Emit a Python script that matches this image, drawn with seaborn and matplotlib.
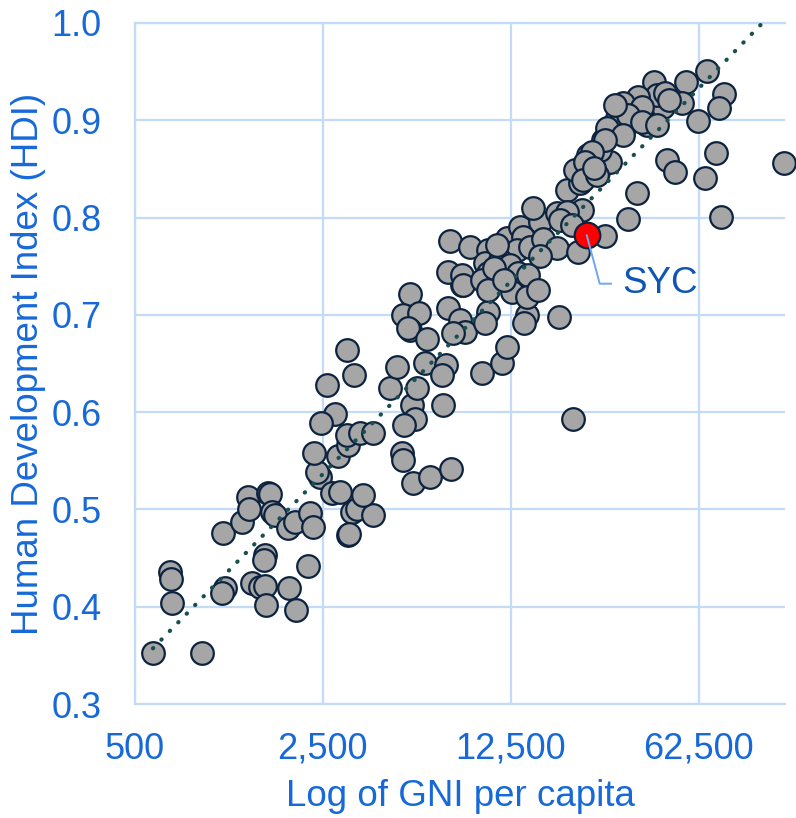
import numpy as np
import pandas as pd
import matplotlib
matplotlib.use('Agg')
import matplotlib.pyplot as plt
import seaborn as sns
from matplotlib.ticker import NullLocator

# ---- data ----
gni = [583, 887, 675, 680, 686, 1062, 1250, 1316, 1327, 1561, 1588, 1616, 1658, 1853, 1967, 2237, 2295,
       1522, 1509, 2200, 1080, 1053, 1361, 1458, 1522, 1869, 1535, 1984, 2437, 2700, 2892, 3205, 3097,
       2375, 3130, 3345, 3836, 3521, 2315, 2843, 3097, 3070, 3431, 3836, 2771, 2457, 2587, 3260, 3070,
       4917, 4959, 5403, 6248, 7480, 5357, 6985, 5496, 5002, 4437, 5591, 4711, 5986, 7167, 6925, 5266,
       4959, 5687, 5266, 5176, 6089, 7290, 8078, 8432, 7608, 8219, 9754, 11573, 12078, 10267, 10006,
       14335, 13973, 18855, 21254, 7420, 8800, 10267, 12078, 13502, 16026, 13853, 18535, 15093, 13158,
       14709, 16443, 18535, 16026, 7290, 8219, 8290, 10006, 11376, 12395, 10267, 9754, 10267, 13273,
       14456, 12610, 14335, 15754, 10800, 11800, 11150, 27951, 34033, 36760, 22182, 20192, 22566, 24167,
       26325, 29173, 21619, 24167, 26779, 27475, 29173, 32607, 40050, 22953, 20192, 19017, 21073, 66930,
       55947, 42520, 77430, 74180, 62000, 54061, 45928, 43628, 46723, 37075, 32607, 38366, 30973, 34033,
       38366, 43628, 28434, 32607, 27951, 25010, 23553, 23152, 26100, 47527, 50899, 72300, 65800, 129450,
       75460, 48500, 30500, 25600]
hdi = [0.352, 0.352, 0.436, 0.428, 0.404, 0.476, 0.487, 0.513, 0.500, 0.517, 0.516, 0.497, 0.494, 0.481,
       0.487, 0.496, 0.482, 0.453, 0.448, 0.442, 0.419, 0.414, 0.424, 0.420, 0.421, 0.419, 0.402, 0.397,
       0.533, 0.517, 0.518, 0.497, 0.474, 0.538, 0.475, 0.500, 0.494, 0.515, 0.558, 0.555, 0.566, 0.576,
       0.579, 0.579, 0.598, 0.589, 0.628, 0.638, 0.664, 0.558, 0.551, 0.527, 0.533, 0.542, 0.607, 0.607,
       0.593, 0.587, 0.625, 0.625, 0.646, 0.650, 0.648, 0.638, 0.721, 0.700, 0.702, 0.684, 0.687, 0.675,
       0.707, 0.695, 0.682, 0.681, 0.731, 0.640, 0.650, 0.667, 0.703, 0.692, 0.700, 0.692, 0.698, 0.593,
       0.776, 0.770, 0.767, 0.779, 0.790, 0.795, 0.780, 0.805, 0.810, 0.767, 0.770, 0.778, 0.769, 0.760,
       0.744, 0.741, 0.731, 0.753, 0.756, 0.751, 0.743, 0.736, 0.726, 0.743, 0.741, 0.723, 0.718, 0.726,
       0.748, 0.736, 0.772, 0.781, 0.799, 0.825, 0.765, 0.828, 0.836, 0.844, 0.847, 0.857, 0.849, 0.864,
       0.869, 0.880, 0.893, 0.888, 0.895, 0.808, 0.806, 0.798, 0.792, 0.951, 0.939, 0.939, 0.927, 0.913,
       0.899, 0.918, 0.914, 0.926, 0.928, 0.924, 0.918, 0.914, 0.902, 0.905, 0.898, 0.895, 0.892, 0.885,
       0.880, 0.867, 0.857, 0.839, 0.844, 0.859, 0.847, 0.866, 0.841, 0.856, 0.801, 0.921, 0.916, 0.851]
syc_label = "SYC"
syc_gni = [23961]
syc_hdi = [0.782]

x_ticks = [500, 2500, 12500, 62500]
x_tick_labels = ["500", "2,500", "12,500", "62,500"]
y_ticks = [0.3, 0.4, 0.5, 0.6, 0.7, 0.8, 0.9, 1.0]
x_title = "Log of GNI per capita"
y_title = "Human Development Index (HDI)"

# ---- style ----
BLUE = "#1769D8"
SYC_BLUE = "#0F56B4"
GRID = "#C4DBF7"
GREY = "#A6A6A6"
NAVY = "#0C2340"
TEAL = "#1A4F4F"
LEADER = "#6EA7F2"

sns.set_theme(style="white")
plt.rcParams['font.family'] = ['Liberation Sans', 'DejaVu Sans']

fig = plt.figure(figsize=(7.96, 8.18), dpi=100)
ax = fig.add_axes([135 / 796, 1 - 704 / 818, 650 / 796, 681 / 818])

df = pd.DataFrame({"gni": gni, "hdi": hdi})
df_syc = pd.DataFrame({"gni": syc_gni, "hdi": syc_hdi})
df_all = pd.concat([df, df_syc], ignore_index=True)

sns.scatterplot(data=df, x="gni", y="hdi", s=265, color=GREY, edgecolor=NAVY,
                linewidth=1.6, ax=ax, zorder=3, legend=False, clip_on=False)
sns.regplot(data=df_all, x="gni", y="hdi", logx=True, scatter=False, ci=None, ax=ax,
            line_kws=dict(color=TEAL, lw=3, linestyle=(0, (0.1, 2.8)),
                          dash_capstyle="round", zorder=4))
sns.scatterplot(data=df_syc, x="gni", y="hdi", s=340, color="#FF0000", edgecolor=NAVY,
                linewidth=1.6, ax=ax, zorder=5, legend=False)

ax.annotate(syc_label, xy=(syc_gni[0], syc_hdi[0]), xytext=(26, -35),
            textcoords="offset points", ha="left", va="center", fontsize=26.5,
            color=SYC_BLUE, zorder=6,
            arrowprops=dict(arrowstyle="-", color=LEADER, lw=1.4, shrinkA=6, shrinkB=0,
                            relpos=(0, 0.5),
                            connectionstyle="angle,angleA=0,angleB=-75,rad=0"))

ax.set_xscale("log")
ax.set_xlim(500, 131000)
ax.set_ylim(0.3, 1.0)
ax.set_xticks(x_ticks)
ax.set_xticklabels(x_tick_labels)
ax.xaxis.set_minor_locator(NullLocator())
ax.set_yticks(y_ticks)
ax.set_yticklabels([f"{v:.1f}" for v in y_ticks])

ax.grid(True, color=GRID, lw=1.6, zorder=0)
ax.set_axisbelow(True)
for side in ["left", "bottom", "top"]:
    ax.spines[side].set_visible(True)
    ax.spines[side].set_color(GRID)
    ax.spines[side].set_linewidth(1.6)
ax.spines["right"].set_visible(False)

ax.tick_params(axis="both", length=0, labelsize=26, labelcolor=BLUE)
ax.tick_params(axis="y", pad=24)
ax.tick_params(axis="x", pad=20)
ax.set_xlabel(x_title, fontsize=26.5, color=BLUE, labelpad=9)
ax.set_ylabel(y_title, fontsize=26.5, color=BLUE, labelpad=4)

fig.savefig("out.png", dpi=100)
